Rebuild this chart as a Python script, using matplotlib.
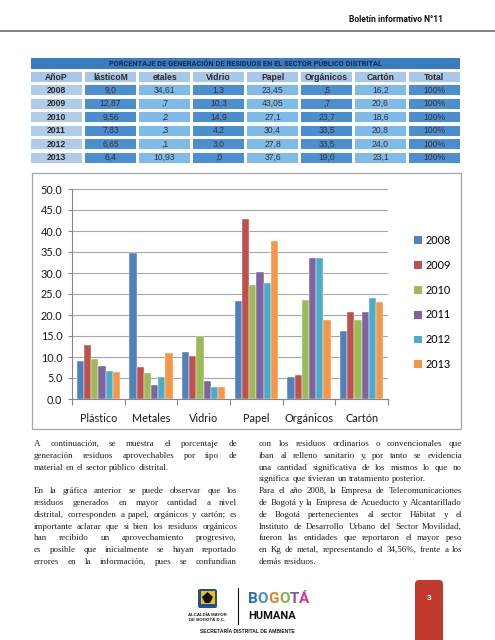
import matplotlib
matplotlib.use("Agg")
import matplotlib.pyplot as plt
from matplotlib.patches import Rectangle, FancyBboxPatch, Patch, Polygon

W, H = 495, 640

# ---- table data (as printed in the bulletin) ----
table_title = "PORCENTAJE DE GENERACIÓN DE RESIDUOS EN EL SECTOR PÚBLICO DISTRITAL"
table_header = ["AñoP", "lásticoM", "etales", "Vidrio", "Papel", "Orgánicos", "Cartón", "Total"]
table_years = ["2008", "2009", "2010", "2011", "2012", "2013"]
plastico_txt = ["9,0", "12,87", "9,56", "7,83", "6,65", "6,4"]
metales_txt = ["34,61", ",7", ",2", ",3", ",1", "10,93"]
vidrio_txt = ["1,3", "10,3", "14,9", "4,2", "3,0", ",0"]
papel_txt = ["23,45", "43,05", "27,1", "30,4", "27,8", "37,6"]
organicos_txt = [",5", ",7", "23,7", "33,5", "33,5", "19,0"]
carton_txt = ["16,2", "20,6", "18,6", "20,8", "24,0", "23,1"]
total_txt = ["100%", "100%", "100%", "100%", "100%", "100%"]

# ---- chart data ----
materials = ["Plástico", "Metales", "Vidrio", "Papel", "Orgánicos", "Cartón"]
years = ["2008", "2009", "2010", "2011", "2012", "2013"]
v2008 = [9.0, 34.7, 11.3, 23.4, 5.3, 16.2]
v2009 = [12.8, 7.7, 10.3, 42.9, 5.7, 20.6]
v2010 = [9.5, 6.3, 15.0, 27.1, 23.6, 18.7]
v2011 = [7.9, 3.3, 4.4, 30.3, 33.5, 20.6]
v2012 = [6.7, 5.2, 2.9, 27.7, 33.5, 24.0]
v2013 = [6.5, 10.9, 2.9, 37.7, 18.9, 23.0]
series = [v2008, v2009, v2010, v2011, v2012, v2013]
bar_colors = ["#4f81bd", "#c0504d", "#9bbb59", "#8064a2", "#4bacc6", "#f79646"]

left_lines = [
    ("A continuación, se muestra el porcentaje de", True),
    ("generación residuos aprovechables por tipo de", True),
    ("material en el sector público distrital.", False),
    ("", False),
    ("En la gráfica anterior se puede observar que los", True),
    ("residuos generados en mayor cantidad a nivel", True),
    ("distrital, corresponden a papel, orgánicos y cartón; es", True),
    ("importante aclarar que si bien los residuos orgánicos", True),
    ("han recibido un aprovechamiento progresivo,", True),
    ("es posible que inicialmente se hayan reportado", True),
    ("errores en la información, pues se confundian", True),
]
right_lines = [
    ("con los residuos ordinarios o convencionales que", True),
    ("iban al relleno sanitario y, por tanto se evidencia", True),
    ("una cantidad significativa de los mismos lo que no", True),
    ("significa que tivieran un tratamiento posterior.", False),
    ("Para el año 2008, la Empresa de Telecomunicaciones", True),
    ("de Bogotá y la Empresa de Acueducto y Alcantarillado", True),
    ("de Bogotá pertenecientes al sector Hábitat y el", True),
    ("Instituto de Desarrollo Urbano del Sector Movilidad,", True),
    ("fueron las entidades que reportaron el mayor peso", True),
    ("en Kg de metal, representando el 34,56%, frente a los", True),
    ("demás residuos.", False),
]

fig = plt.figure(figsize=(W / 100, H / 100), dpi=100, facecolor="white")
page = fig.add_axes([0, 0, 1, 1])
page.set_xlim(0, W)
page.set_ylim(H, 0)
page.axis("off")
renderer = fig.canvas.get_renderer()

cond = ["Roboto", "DejaVu Sans"]
sans = ["Liberation Sans", "DejaVu Sans"]
serif = ["Liberation Serif", "DejaVu Serif"]


def text_w(s, size, **kw):
    t = page.text(0, 0, s, fontsize=size, **kw)
    w = t.get_window_extent(renderer).width
    t.remove()
    return w


def fit_size(s, target, **kw):
    # font size that makes s about target pixels wide
    return 10 * target / text_w(s, 10, **kw)


# header
hkw = dict(fontweight="bold", family=cond)
page.text(443, 20, "Boletín informativo N°11", ha="right", va="center",
          fontsize=min(7.5, fit_size("Boletín informativo N°11", 95, **hkw)),
          color="#111111", **hkw)
page.plot([0, W], [31, 31], color="#6d6d6d", lw=1.2)

# ---- table ----
x0, col_w, pitch = 31, 51, 54
page.add_patch(Rectangle((x0, 58), 8 * pitch - 3, 11, facecolor="#3a7cc2", edgecolor="none"))
page.text(x0 + (8 * pitch - 3) / 2, 63.8, table_title, ha="center", va="center",
          fontsize=fit_size(table_title, 272, **hkw), color="#14284b", **hkw)
columns = [table_years, plastico_txt, metales_txt, vidrio_txt, papel_txt,
           organicos_txt, carton_txt, total_txt]
row_top = [72, 85, 98.5, 112, 125.5, 139, 152.5]
for c, head in enumerate(table_header):
    cx = x0 + c * pitch
    page.add_patch(Rectangle((cx, row_top[0]), col_w, 10, facecolor="#a9c7e9", edgecolor="none"))
    page.text(cx + col_w / 2, row_top[0] + 5.3, head, ha="center", va="center",
              fontsize=6.2, fontweight="bold", family=sans, color="#2b2b2b")
    for r, val in enumerate(columns[c]):
        if c == 0:
            fc = "#b1cbea"
        elif c % 2 == 1:
            fc = "#4b8fd1"
        else:
            fc = "#7ebbe9"
        ry = row_top[r + 1]
        page.add_patch(Rectangle((cx, ry), col_w, 10, facecolor=fc, edgecolor="none"))
        page.text(cx + col_w / 2, ry + 5.3, val, ha="center", va="center", fontsize=6.2,
                  fontweight="bold" if c == 0 else "normal", family=sans,
                  color="#2b2b2b" if c == 0 else "#333333")

# ---- chart ----
page.add_patch(Rectangle((32, 173), 429, 256, facecolor="white", edgecolor="#a6a6a6", lw=0.9))
ax = fig.add_axes([72 / W, 1 - 399 / H, (388 - 72) / W, (399 - 189) / H])
ax.set_facecolor("none")
bw = 0.137
for i, (vals, col) in enumerate(zip(series, bar_colors)):
    xs = [k + (i - 2.5) * bw for k in range(len(materials))]
    ax.bar(xs, vals, width=bw, color=col, edgecolor="#ffffff", linewidth=0.3,
           label=years[i], zorder=3)
ax.set_xlim(-0.5, len(materials) - 0.5)
ax.set_ylim(0, 50)
ax.set_yticks(range(0, 51, 5))
ax.set_yticklabels([f"{v:.1f}" for v in range(0, 51, 5)])
ax.yaxis.grid(True, color="#a6a6a6", lw=0.8, zorder=0)
ax.set_axisbelow(True)
ax.set_xticks([k - 0.5 for k in range(len(materials) + 1)])
ax.set_xticklabels([])
ax.set_xticks(range(len(materials)), minor=True)
ax.set_xticklabels(materials, minor=True)
ax.tick_params(axis="x", which="major", length=4, color="#868686", width=0.8)
ax.tick_params(axis="x", which="minor", length=0, pad=10, labelsize=7.8, labelcolor="#1a1a1a")
ax.tick_params(axis="y", length=3, color="#868686", width=0.8, labelsize=7.8,
               labelcolor="#1a1a1a", pad=4)
for lab in ax.get_xticklabels(minor=True) + ax.get_yticklabels():
    lab.set_family(["Lato", "DejaVu Sans"])
for s in ["top", "right"]:
    ax.spines[s].set_visible(False)
for s in ["left", "bottom"]:
    ax.spines[s].set_color("#868686")
    ax.spines[s].set_linewidth(0.8)

handles = [Patch(facecolor=c, edgecolor="none") for c in bar_colors]
fig.legend(handles, years, loc="center left", bbox_to_anchor=(404 / W, 1 - 302.5 / H),
           frameon=False, handlelength=0.75, handleheight=0.75, handletextpad=0.3,
           labelspacing=1.28, prop={"family": ["Lato", "DejaVu Sans"], "size": 7.8})

# ---- body text (two justified columns) ----
cols = [(left_lines, 34, 237), (right_lines, 259, 462)]
# one size for all body text: the largest that lets every justified line fit
body_size = 7.0
for lines, xa, xb in cols:
    for line, just in lines:
        if line:
            need = text_w(line, 10, family=serif) * 1.03
            body_size = min(body_size, 10 * (xb - xa) / need)
tkw = dict(fontsize=body_size, family=serif, color="#231f20", va="center", ha="left")
space_w = text_w("a a", body_size, family=serif) - text_w("aa", body_size, family=serif)


def draw_lines(lines, xa, xb, y0, step):
    for n, (line, just) in enumerate(lines):
        if not line:
            continue
        y = y0 + n * step
        words = line.split()
        texts = [page.text(0, y, w, **tkw) for w in words]
        widths = [t.get_window_extent(renderer).width for t in texts]
        gap = (xb - xa - sum(widths)) / (len(words) - 1) if just and len(words) > 1 else space_w
        x = xa
        for t, w in zip(texts, widths):
            t.set_x(x)
            x += w + gap


for lines, xa, xb in cols:
    draw_lines(lines, xa, xb, 444, 11.8)

# ---- footer logos ----
page.add_patch(FancyBboxPatch((198, 589), 19, 19, boxstyle="round,pad=0,rounding_size=2",
                              facecolor="#1d4f9c", edgecolor="none"))
page.add_patch(Rectangle((200.5, 591), 14, 13, facecolor="#f2c200", edgecolor="none"))
page.add_patch(Polygon([(207.5, 592), (213, 597), (210, 603), (205, 603), (202, 597)],
                       closed=True, facecolor="#111111", edgecolor="none"))
page.text(207.5, 615, "ALCALDÍA MAYOR", ha="center", va="center", fontsize=3.2,
          fontweight="bold", family=sans, color="#1a1a1a")
page.text(207.5, 620, "DE BOGOTÁ D.C.", ha="center", va="center", fontsize=3.2,
          fontweight="bold", family=sans, color="#1a1a1a")
page.plot([237.5, 237.5], [588, 624], color="#111111", lw=0.8)
logo_letters = ["B", "O", "G", "O", "T", "Á"]
logo_colors = ["#2a6bb7", "#3d8ed3", "#e67e22", "#7ab648", "#7e57a8", "#d9338a"]
lx = 248
for ch, c in zip(logo_letters, logo_colors):
    t = page.text(lx, 599, ch, ha="left", va="center", fontsize=11, fontweight="bold",
                  family=cond, color=c)
    lx += t.get_window_extent(renderer).width
page.text(248, 616, "HUMANA", ha="left", va="center", fontsize=8, fontweight="bold",
          family=cond, color="#111111")
page.text(247, 631, "SECRETARÍA DISTRITAL DE AMBIENTE", ha="center", va="center",
          fontsize=3.6, fontweight="bold", family=sans, color="#1a1a1a")

page.add_patch(FancyBboxPatch((415, 580), 28, 70, boxstyle="round,pad=0,rounding_size=4",
                              facecolor="#c23a2b", edgecolor="none"))
page.text(429, 599, "3", ha="center", va="center", fontsize=6, fontweight="bold",
          family=sans, color="white")

fig.savefig("out.png", dpi=100, facecolor="white")
